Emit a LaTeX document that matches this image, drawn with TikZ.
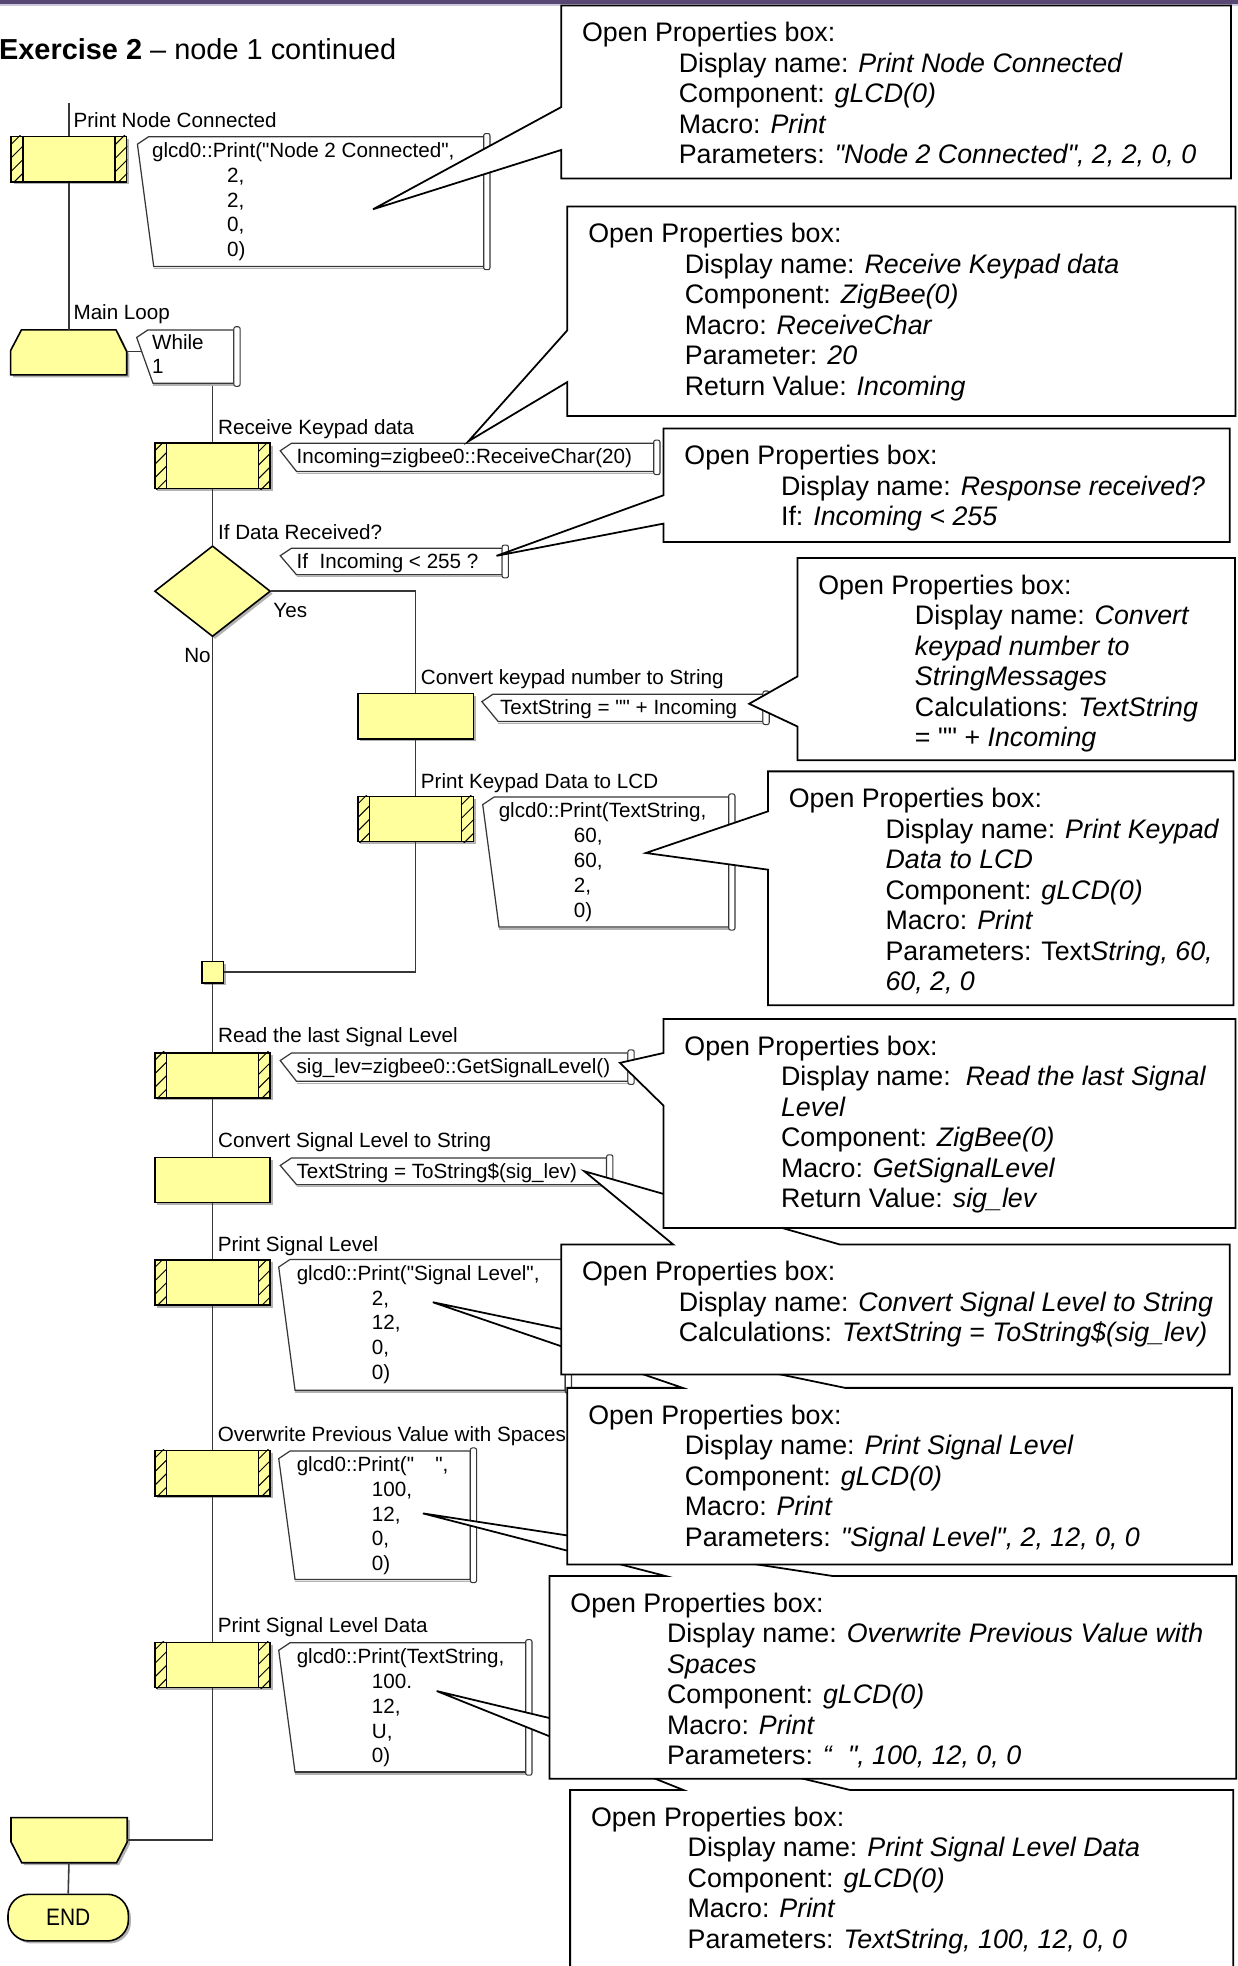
\documentclass[tikz,border=0pt]{standalone}
\usepackage{fontspec}
\setmainfont{Liberation Sans}
\newfontfamily\endfont{Liberation Sans}[FakeStretch=0.88]
\usetikzlibrary{shapes.geometric,shadows}

\definecolor{fcyellow}{RGB}{255,255,158}
\definecolor{barpurple}{RGB}{88,70,116}
\definecolor{barlight}{RGB}{205,200,220}
\definecolor{flowgray}{RGB}{55,55,55}
\definecolor{shadowgray}{RGB}{178,178,178}

\tikzset{
  flowline/.style={draw=flowgray, line width=0.9pt},
  boxshadow/.style={drop shadow={shadow xshift=0.05cm, shadow yshift=-0.05cm, fill=shadowgray, opacity=1}},
  macrobox/.style={draw=black, fill=fcyellow, line width=0.9pt, minimum width=2.3cm, minimum height=0.9cm, inner sep=0pt, boxshadow},
  decision/.style={diamond, draw=black, fill=fcyellow, line width=0.9pt, minimum width=2.31cm, minimum height=1.81cm, inner sep=0pt, boxshadow},
  junction/.style={draw=black, fill=fcyellow, line width=0.9pt, minimum size=0.43cm, inner sep=0pt, boxshadow},
  terminator/.style={draw=black, fill=fcyellow, line width=0.9pt, rounded corners=0.42cm, minimum width=2.4cm, minimum height=0.93cm, inner sep=0pt, boxshadow, font=\endfont\fontsize{13.5}{15}\selectfont},
  loopshape/.style={draw=black, fill=fcyellow, line width=0.9pt, boxshadow},
  hatchline/.style={draw=black, line width=0.55pt},
  flowlabel/.style={font=\fontsize{11.7}{14}\selectfont, inner sep=0pt, anchor=base west},
  codetext/.style={font=\fontsize{11.7}{14.1}\selectfont, inner sep=0pt, anchor=base west},
  commentbox/.style={draw=flowgray, line width=0.7pt, fill=white},
  scrollbar/.style={draw=flowgray, line width=0.6pt, fill=white, rounded corners=0.04cm},
  callout/.style={draw=black, line width=1pt, fill=white},
  proptext/.style={font=\fontsize{15.2}{17.3}\selectfont, inner sep=0pt, anchor=base west},
}

% straight double quote
\newcommand\dq{\textquotedbl}
% indent of the property rows and of the argument rows
\newcommand\ind{\hspace*{54.8pt}}
\newcommand\numind{\hspace*{42.6pt}}

% hatched side strips of a macro call
\newcommand\hatchsides[1]{%
  \begin{scope}
    \clip (#1.north west) rectangle ([xshift=0.25cm]#1.south west);
    \foreach \k in {0,1,2,3}
      \draw[hatchline] ([yshift=\k*0.27cm-0.06cm]#1.south west) -- ++(0.25cm,0.25cm);
  \end{scope}
  \begin{scope}
    \clip ([xshift=-0.25cm]#1.north east) rectangle (#1.south east);
    \foreach \k in {0,1,2,3}
      \draw[hatchline] ([xshift=-0.25cm,yshift=\k*0.27cm-0.06cm]#1.south east) -- ++(0.25cm,0.25cm);
  \end{scope}
  \draw[line width=0.9pt] ([xshift=0.25cm]#1.north west) -- ([xshift=0.25cm]#1.south west);
  \draw[line width=0.9pt] ([xshift=-0.25cm]#1.north east) -- ([xshift=-0.25cm]#1.south east);
}

% comment shape: notch x, top, right x, bottom
\newcommand\commentbox[4]{%
  \draw[shadowgray, line width=0.8pt] (#1+13,#4+1.6) -- (#3,#4+1.6);
  \draw[commentbox] (#1+9,#2) -- (#3,#2) -- (#3,#4) -- (#1+13,#4) -- (#1,#2+6) -- cycle;
  \draw[scrollbar] (#3,#2-2.5) rectangle (#3+5,#4+2.5);
}

% callout with the pointer on its left side: L T R B upper lower tip
\newcommand\calloutleft[7]{%
  \draw[callout] (#1,#2) -- (#3,#2) -- (#3,#4) -- (#1,#4) -- (#1,#6) -- (#7) -- (#1,#5) -- cycle;}
% callout with the pointer on its top side: L T R B left right tip
\newcommand\callouttop[7]{%
  \draw[callout] (#1,#2) -- (#5,#2) -- (#7) -- (#6,#2) -- (#3,#2) -- (#3,#4) -- (#1,#4) -- cycle;}
% property text of a callout: L T name rows
\newcommand\props[4]{%
  \node[proptext] (#3) at (#1+16.4,#2+29) {\begin{tabular}[t]{@{}l@{}}Open Properties box:\\#4\end{tabular}};}

\begin{document}
\begin{tikzpicture}[x=0.025cm,y=-0.025cm]
\useasboundingbox (0,0) rectangle (987,1568);
\fill[white] (0,0) rectangle (987,1568);

% header bar
\fill[barpurple] (0,0) rectangle (987,3.3);
\fill[barlight] (0,3.3) rectangle (987,4.6);

\node[anchor=base west, inner sep=0pt, font=\fontsize{16.4}{19}\selectfont] (title) at (-1,47.3)
  {\textbf{Exercise 2} – node 1 continued};

% ---------------- flowchart ----------------
\coordinate (mainTop) at (55,82.4);
\coordinate (loopIn) at (55,263.1);
\coordinate (loopSide) at (101.1,280.4);
\coordinate (whileIn) at (112.5,280.4);
\coordinate (whileOut) at (169.5,305.6);
\coordinate (yesCorner) at (331.5,471.5);
\coordinate (backCorner) at (331.5,775.3);
\coordinate (bodyEnd) at (169.5,1467.5);
\coordinate (loopEndIn) at (101.5,1467.5);
\coordinate (loopEndOut) at (55,1485.6);

\node[macrobox] (pnc) at (55,127) {};
\node[macrobox] (rkd) at (169.5,371.5) {};
\node[decision] (dec) at (169.5,471.5) {};
\node[macrobox] (ckn) at (331.5,571.2) {};
\node[macrobox] (pkd) at (331.5,653.1) {};
\node[junction] (join) at (169.5,775.3) {};
\node[macrobox] (rsl) at (169.5,857.6) {};
\node[macrobox] (csl) at (169.5,941) {};
\node[macrobox] (psl) at (169.5,1022.8) {};
\node[macrobox] (ows) at (169.5,1175) {};
\node[macrobox] (psld) at (169.5,1327.9) {};
\node[terminator] (endnode) at (54.4,1529.4) {END};

\hatchsides{pnc}
\hatchsides{rkd}
\hatchsides{pkd}
\hatchsides{rsl}
\hatchsides{psl}
\hatchsides{ows}
\hatchsides{psld}

% loop start and loop end
\draw[loopshape] (17.1,263.1) -- (92.5,263.1) -- (101.1,280.4) -- (101.1,299) -- (8.5,299) -- (8.5,279.5) -- cycle;
\draw[loopshape] (8.8,1449.7) -- (101.5,1449.7) -- (101.5,1469) -- (93,1485.6) -- (17.3,1485.6) -- (8.8,1469) -- cycle;

% connectors
\draw[flowline] (mainTop) -- (pnc.north);
\draw[flowline] (pnc.south) -- (loopIn);
\draw[flowline] (loopSide) -- (whileIn);
\draw[flowline] (whileOut) -- (rkd.north);
\draw[flowline] (rkd.south) -- (dec.north);
\draw[flowline] (dec.east) -- (yesCorner) -- (ckn.north);
\draw[flowline] (ckn.south) -- (pkd.north);
\draw[flowline] (pkd.south) -- (backCorner) -- (join.east);
\draw[flowline] (dec.south) -- (join.north);
\draw[flowline] (join.south) -- (rsl.north);
\draw[flowline] (rsl.south) -- (csl.north);
\draw[flowline] (csl.south) -- (psl.north);
\draw[flowline] (psl.south) -- (ows.north);
\draw[flowline] (ows.south) -- (psld.north);
\draw[flowline] (psld.south) -- (bodyEnd) -- (loopEndIn);
\draw[flowline] (loopEndOut) -- (endnode.north);

% icon labels
\node[flowlabel] (l1) at (58.4,101.8) {Print Node Connected};
\node[flowlabel] (l2) at (58.4,255) {Main Loop};
\node[flowlabel] (l3) at (173.7,346.8) {Receive Keypad data};
\node[flowlabel] (l4) at (173.7,430) {If Data Received?};
\node[flowlabel] (l5) at (335.4,546.1) {Convert keypad number to String};
\node[flowlabel] (l6) at (335.4,628.5) {Print Keypad Data to LCD};
\node[flowlabel] (l7) at (173.7,831.8) {Read the last Signal Level};
\node[flowlabel] (l8) at (173.7,915.5) {Convert Signal Level to String};
\node[flowlabel] (l9) at (173.4,997.9) {Print Signal Level};
\node[flowlabel] (l10) at (173.4,1149.4) {Overwrite Previous Value with Spaces};
\node[flowlabel] (l11) at (173.4,1302.2) {Print Signal Level Data};
\node[flowlabel] (yes) at (217.8,492.2) {Yes};
\node[flowlabel] (no) at (146.7,528) {No};

% comment boxes
\commentbox{109.6}{109}{385.8}{212.6}
\node[codetext] (k1) at (121,125.5) {\begin{tabular}[t]{@{}l@{}}glcd0::Print(\dq Node 2 Connected\dq,\\\numind 2,\\\numind 2,\\\numind 0,\\\numind 0)\end{tabular}};

\commentbox{109}{263.1}{186.5}{305.6}
\node[codetext, font=\fontsize{11.7}{13.6}\selectfont] (kw) at (121,278.4) {\begin{tabular}[t]{@{}l@{}}While\\1\end{tabular}};

\commentbox{223.5}{353.5}{521.4}{376}
\node[codetext] (k2) at (236.3,370) {Incoming=zigbee0::ReceiveChar(20)};

\commentbox{223.5}{437.2}{400.5}{458.4}
\node[codetext] (k3) at (236.3,453.7) {If\ \ Incoming < 255 ?};

\commentbox{384.3}{553.6}{608.5}{575.4}
\node[codetext] (k4) at (398.6,570.1) {TextString = \dq\dq\ + Incoming};

\commentbox{385}{635.7}{581.2}{739.3}
\node[codetext] (k5) at (397.5,652.2) {\begin{tabular}[t]{@{}l@{}}glcd0::Print(TextString,\\\numind 60,\\\numind 60,\\\numind 2,\\\numind 0)\end{tabular}};

\commentbox{223.5}{839.8}{500.8}{862.4}
\node[codetext] (k6) at (236.3,856.3) {sig\_lev=zigbee0::GetSignalLevel()};

\commentbox{223.5}{923.5}{483.8}{944.8}
\node[codetext] (k7) at (236.3,940) {TextString = ToString\$(sig\_lev)};

\commentbox{222.3}{1004.5}{450.8}{1108.7}
\node[codetext] (k8) at (236.4,1021) {\begin{tabular}[t]{@{}l@{}}glcd0::Print(\dq Signal Level\dq,\\\numind 2,\\\numind 12,\\\numind 0,\\\numind 0)\end{tabular}};

\commentbox{222.3}{1157.3}{375.1}{1259.7}
\node[codetext] (k9) at (236.4,1173.5) {\begin{tabular}[t]{@{}l@{}}glcd0::Print(\dq\hspace*{12pt}\dq,\\\numind 100,\\\numind 12,\\\numind 0,\\\numind 0)\end{tabular}};

\commentbox{222.3}{1310.2}{419.3}{1413.3}
\draw[flowgray, line width=1.3pt] (235.3,1413.3) -- (419.3,1413.3);
\node[codetext] (k10) at (236.4,1326.7) {\begin{tabular}[t]{@{}l@{}}glcd0::Print(TextString,\\\numind 100.\\\numind 12,\\\numind U,\\\numind 0)\end{tabular}};

% ---------------- property callouts ----------------
\coordinate (tip1) at (297.5,166.9);
\coordinate (tip2) at (373.5,352);
\coordinate (tip3) at (396,443.3);
\coordinate (tip4) at (597.5,561.3);
\coordinate (tip5) at (515.1,680.3);
\coordinate (tip6) at (494.4,847.7);
\coordinate (tip7) at (466,934.1);
\coordinate (tip8) at (345.2,1038.6);
\coordinate (tip9) at (337.3,1207);
\coordinate (tip10) at (348.3,1348.7);

\calloutleft{447.6}{4.3}{981.8}{142.4}{85.4}{119.6}{tip1}
\props{447.6}{4.3}{p1}{\ind Display name: \textit{Print Node Connected}\\
 \ind Component: \textit{gLCD(0)}\\
 \ind Macro: \textit{Print}\\
 \ind Parameters: \textit{\dq Node 2 Connected\dq, 2, 2, 0, 0}}

\calloutleft{452.5}{164.6}{985.3}{331.7}{263.4}{304.7}{tip2}
\props{452.5}{164.6}{p2}{\ind Display name: \textit{Receive Keypad data}\\
 \ind Component: \textit{ZigBee(0)}\\
 \ind Macro: \textit{ReceiveChar}\\
 \ind Parameter: \textit{20}\\
 \ind Return Value: \textit{Incoming}}

\calloutleft{529.2}{341.7}{980.7}{432.2}{395}{417.6}{tip3}
\props{529.2}{341.7}{p3}{\ind Display name: \textit{Response received?}\\
 \ind If: \textit{Incoming < 255}}

\calloutleft{636}{445.1}{985}{606.4}{539.5}{579.4}{tip4}
\props{636}{445.1}{p4}{\ind Display name: \textit{Convert}\\
 \ind \textit{keypad number to}\\
 \ind \textit{StringMessages}\\
 \ind Calculations: \textit{TextString}\\
 \ind = \dq\dq\ + \textit{Incoming}}

\calloutleft{612.5}{615.2}{983.7}{801.8}{647.1}{693.6}{tip5}
\props{612.5}{615.2}{p5}{\ind Display name: \textit{Print Keypad}\\
 \ind \textit{Data to LCD}\\
 \ind Component: \textit{gLCD(0)}\\
 \ind Macro: \textit{Print}\\
 \ind Parameters: Text\textit{String, 60,}\\
 \ind \textit{60, 2, 0}}

\callouttop{454.7}{1427.6}{983.6}{1580}{545}{678}{tip10}
\props{454.7}{1427.6}{p10}{\ind Display name: \textit{Print Signal Level Data}\\
 \ind Component: \textit{gLCD(0)}\\
 \ind Macro: \textit{Print}\\
 \ind Parameters: \textit{TextString, 100, 12, 0, 0}}

\callouttop{438.3}{1257}{986}{1418.6}{531}{664.5}{tip9}
\props{438.3}{1257}{p9}{\ind Display name: \textit{Overwrite Previous Value with}\\
 \ind \textit{Spaces}\\
 \ind Component: \textit{gLCD(0)}\\
 \ind Macro: \textit{Print}\\
 \ind Parameters: \textit{“\hspace*{9pt}\dq, 100, 12, 0, 0}}

\callouttop{452.5}{1106.9}{982.5}{1247.7}{544.5}{674}{tip8}
\props{452.5}{1106.9}{p8}{\ind Display name: \textit{Print Signal Level}\\
 \ind Component: \textit{gLCD(0)}\\
 \ind Macro: \textit{Print}\\
 \ind Parameters: \textit{\dq Signal Level\dq, 2, 12, 0, 0}}

\callouttop{447.6}{992.6}{980.7}{1096.2}{537}{670}{tip7}
\props{447.6}{992.6}{p7}{\ind Display name: \textit{Convert Signal Level to String}\\
 \ind Calculations: \textit{TextString = ToString\$(sig\_lev)}}

\calloutleft{529.2}{812.7}{985.3}{979.3}{839.8}{881.8}{tip6}
\props{529.2}{812.7}{p6}{\ind Display name:\ \ \textit{Read the last Signal}\\
 \ind \textit{Level}\\
 \ind Component: \textit{ZigBee(0)}\\
 \ind Macro: \textit{GetSignalLevel}\\
 \ind Return Value: \textit{sig\_lev}}

\end{tikzpicture}
\end{document}
